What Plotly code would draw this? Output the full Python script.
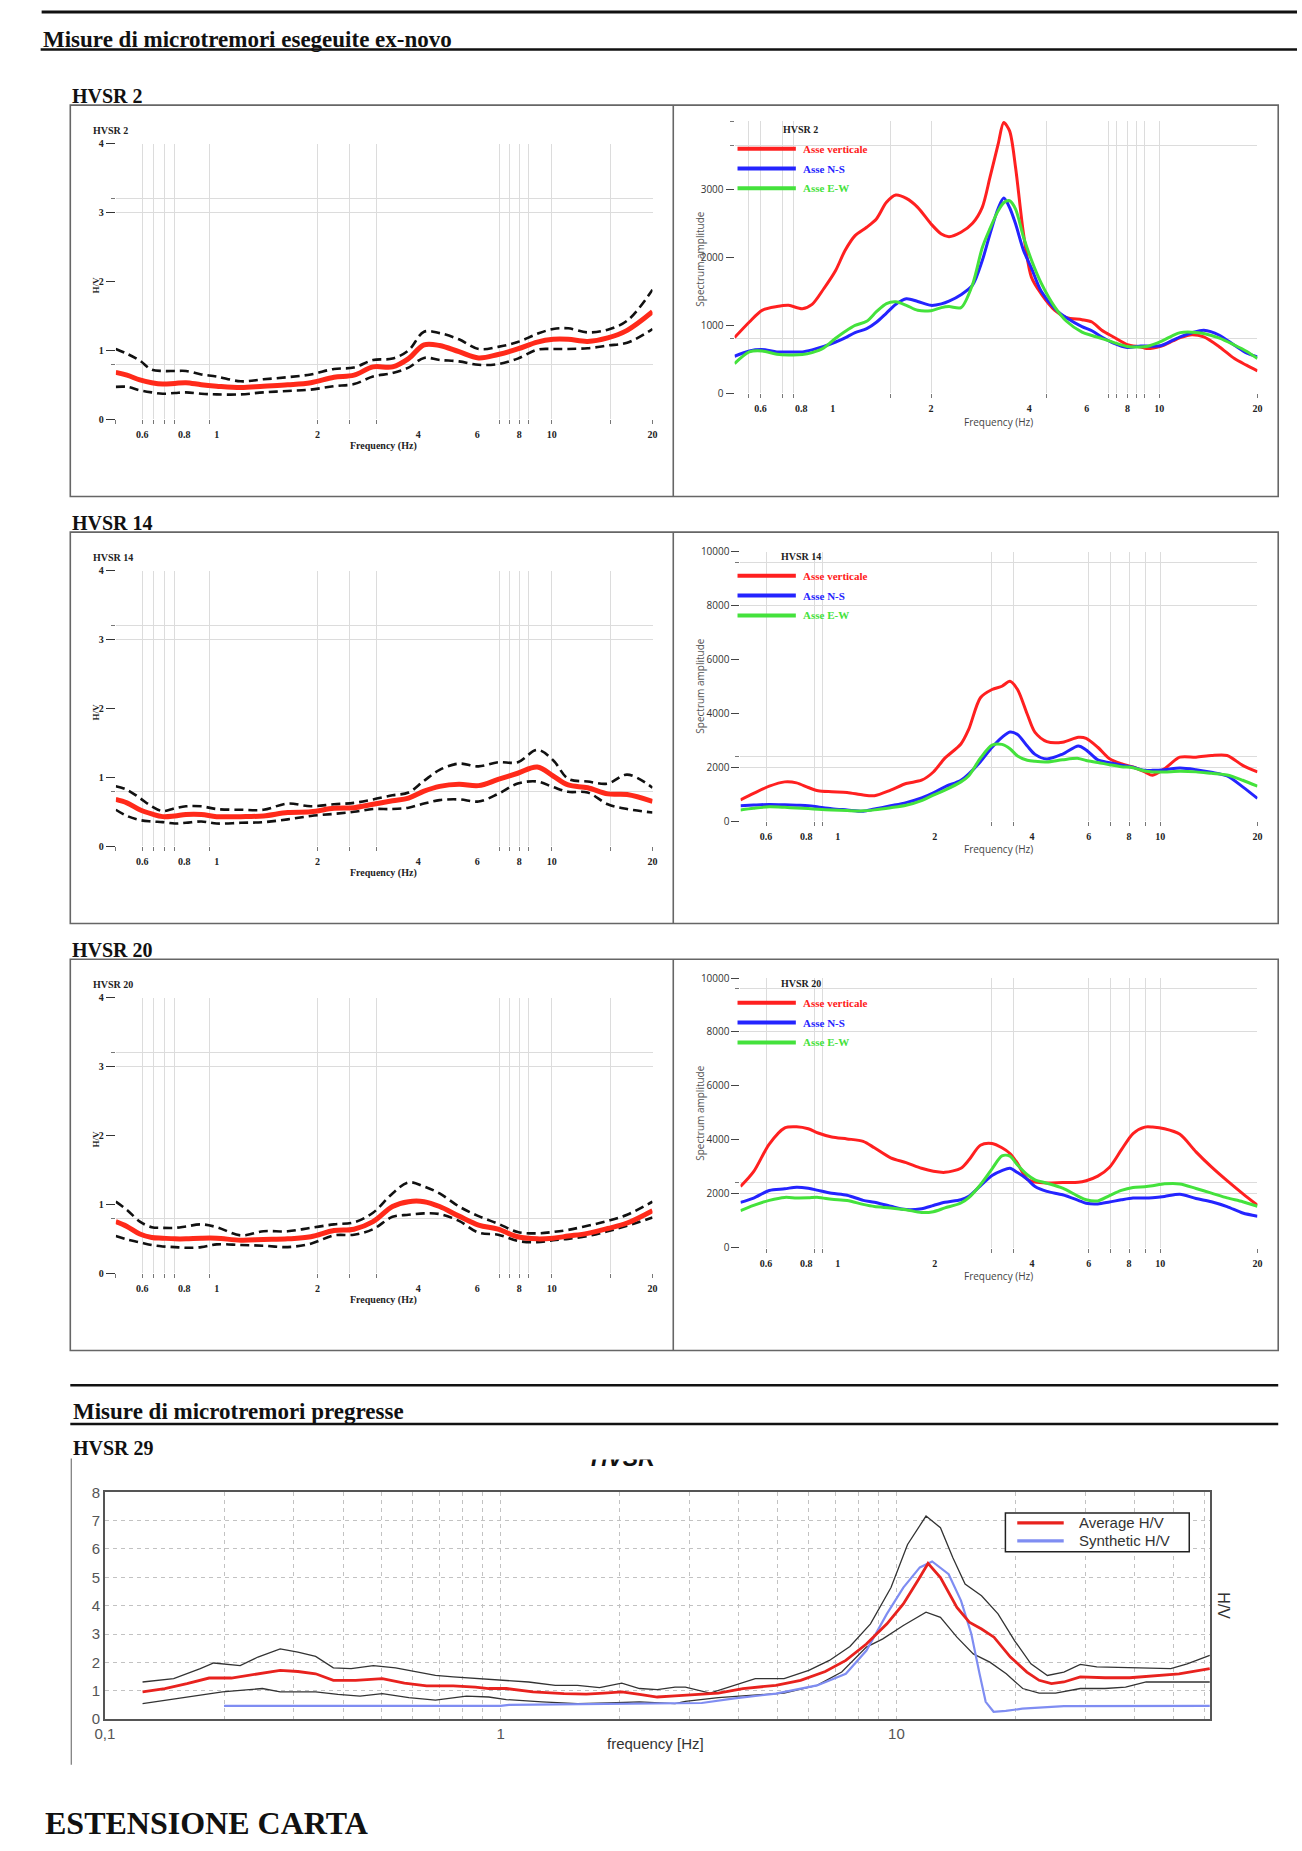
import numpy as np
import plotly.graph_objects as go

W, H = 1302, 1851

# ---------------- DATA ----------------
# H/V curves (left panels), frequency in Hz
hv_freq = [0.50, 0.54, 0.59, 0.64, 0.69, 0.75, 0.81, 0.90, 1.00, 1.18, 1.38, 1.63, 1.91, 2.24, 2.57, 2.93,
           3.35, 3.74, 4.16, 4.63, 5.29, 6.05, 6.92, 7.92, 9.06, 10.1, 11.2, 12.8, 14.7, 16.8, 20.0]
hv2_mean = [0.68, 0.64, 0.57, 0.53, 0.51, 0.52, 0.53, 0.50, 0.48, 0.46, 0.48, 0.50, 0.53, 0.61, 0.64, 0.76,
            0.76, 0.88, 1.08, 1.07, 0.98, 0.89, 0.94, 1.02, 1.12, 1.16, 1.16, 1.13, 1.18, 1.29, 1.56]
hv2_upper = [1.02, 0.95, 0.85, 0.72, 0.70, 0.70, 0.70, 0.65, 0.62, 0.55, 0.58, 0.61, 0.65, 0.73, 0.75, 0.86,
             0.88, 1.00, 1.27, 1.25, 1.16, 1.02, 1.05, 1.12, 1.24, 1.31, 1.32, 1.26, 1.30, 1.43, 1.88]
hv2_lower = [0.47, 0.47, 0.42, 0.39, 0.37, 0.38, 0.39, 0.37, 0.36, 0.36, 0.39, 0.41, 0.43, 0.48, 0.51, 0.62,
             0.67, 0.75, 0.89, 0.86, 0.84, 0.79, 0.80, 0.88, 1.01, 1.02, 1.02, 1.03, 1.07, 1.11, 1.31]
hv14_mean = [0.68, 0.63, 0.53, 0.47, 0.43, 0.44, 0.46, 0.46, 0.43, 0.43, 0.44, 0.49, 0.50, 0.55, 0.56, 0.61,
             0.66, 0.70, 0.80, 0.87, 0.90, 0.88, 0.97, 1.06, 1.15, 1.02, 0.89, 0.85, 0.76, 0.75, 0.65]
hv14_upper = [0.87, 0.82, 0.70, 0.58, 0.51, 0.55, 0.58, 0.58, 0.54, 0.53, 0.53, 0.62, 0.58, 0.61, 0.63, 0.68,
              0.74, 0.78, 0.95, 1.11, 1.20, 1.16, 1.22, 1.22, 1.40, 1.25, 0.98, 0.94, 0.91, 1.04, 0.85]
hv14_lower = [0.53, 0.44, 0.38, 0.36, 0.35, 0.33, 0.34, 0.36, 0.33, 0.34, 0.35, 0.39, 0.44, 0.47, 0.50, 0.54,
              0.54, 0.56, 0.62, 0.67, 0.68, 0.65, 0.76, 0.91, 0.94, 0.86, 0.79, 0.78, 0.61, 0.54, 0.49]
hv20_mean = [0.75, 0.68, 0.57, 0.52, 0.51, 0.50, 0.50, 0.51, 0.51, 0.48, 0.49, 0.50, 0.53, 0.62, 0.64, 0.75,
             0.97, 1.04, 1.04, 0.97, 0.83, 0.70, 0.64, 0.53, 0.50, 0.51, 0.54, 0.58, 0.65, 0.73, 0.91]
hv20_upper = [1.04, 0.92, 0.75, 0.67, 0.66, 0.66, 0.68, 0.71, 0.67, 0.55, 0.61, 0.61, 0.66, 0.71, 0.74, 0.88,
              1.16, 1.32, 1.26, 1.16, 0.97, 0.83, 0.72, 0.60, 0.58, 0.60, 0.63, 0.69, 0.76, 0.85, 1.04]
hv20_lower = [0.54, 0.49, 0.45, 0.41, 0.39, 0.38, 0.37, 0.38, 0.42, 0.41, 0.40, 0.38, 0.43, 0.55, 0.56, 0.64,
              0.82, 0.85, 0.87, 0.86, 0.76, 0.59, 0.56, 0.47, 0.45, 0.48, 0.50, 0.54, 0.61, 0.69, 0.81]

# Spectra (right panels)
spec2_freq = [0.50, 0.555, 0.607, 0.674, 0.732, 0.806, 0.864, 0.938, 1.02, 1.09, 1.17, 1.27, 1.36, 1.46, 1.56,
              1.68, 1.82, 2.0, 2.15, 2.27, 2.47, 2.68, 2.87, 3.03, 3.21, 3.34, 3.48, 3.63, 3.84, 4.06, 4.35,
              4.79, 5.2, 5.8, 6.22, 6.67, 7.24, 7.98, 8.78, 9.15, 10.1, 11.0, 11.6, 12.6, 13.7, 15.3, 17.0,
              18.5, 20.0]
spec2_vert = [820, 1049, 1220, 1275, 1293, 1244, 1307, 1537, 1805, 2098, 2317, 2439, 2561, 2805, 2912, 2863,
              2732, 2488, 2341, 2302, 2366, 2498, 2732, 3171, 3659, 3976, 3854, 3317, 2341, 1707, 1463, 1220,
              1112, 1083, 1049, 927, 829, 717, 683, 659, 693, 770, 820, 863, 829, 683, 512, 415, 332]
spec2_ns = [546, 624, 644, 610, 610, 610, 640, 690, 755, 815, 893, 951, 1045, 1180, 1310, 1390, 1350, 1293,
            1315, 1355, 1450, 1590, 1950, 2340, 2715, 2868, 2730, 2490, 2100, 1840, 1500, 1244, 1110, 980,
            920, 829, 740, 675, 698, 695, 700, 780, 830, 890, 927, 854, 707, 595, 537]
spec2_ew = [439, 610, 624, 576, 565, 570, 600, 668, 810, 910, 1000, 1059, 1200, 1320, 1345, 1293, 1220, 1215,
            1260, 1275, 1259, 1600, 2140, 2420, 2680, 2800, 2829, 2707, 2293, 1960, 1620, 1268, 1060, 900,
            850, 805, 750, 690, 683, 690, 760, 850, 893, 900, 880, 812, 710, 620, 512]

spec_freq = [0.50, 0.549, 0.614, 0.686, 0.746, 0.811, 0.87, 0.959, 1.07, 1.2, 1.3, 1.46, 1.63, 1.82, 1.98,
             2.15, 2.41, 2.55, 2.77, 3.01, 3.23, 3.42, 3.61, 3.87, 4.09, 4.45, 4.98, 5.57, 5.89, 6.4, 6.96,
             7.57, 8.23, 8.95, 9.46, 10.3, 11.5, 12.9, 14.4, 16.1, 18.0, 20.0]
spec14_vert = [796, 1040, 1310, 1469, 1432, 1261, 1138, 1102, 1077, 979, 955, 1163, 1408, 1530, 1836, 2350,
               2876, 3427, 4590, 4896, 5018, 5202, 4896, 3978, 3305, 2962, 2938, 3121, 3084, 2754, 2326, 2142,
               2020, 1836, 1714, 1958, 2387, 2387, 2448, 2448, 2081, 1836]
spec14_ns = [588, 610, 632, 620, 605, 588, 540, 475, 428, 380, 460, 580, 698, 870, 1060, 1285, 1530, 1770,
             2220, 2750, 3120, 3320, 3230, 2800, 2490, 2320, 2500, 2800, 2656, 2289, 2180, 2090, 2010, 1897,
             1897, 1920, 1980, 1922, 1825, 1690, 1285, 857]
spec14_ew = [428, 490, 545, 525, 500, 477, 450, 423, 404, 394, 430, 510, 600, 775, 980, 1163, 1469, 1700,
             2350, 2830, 2860, 2700, 2430, 2270, 2230, 2210, 2290, 2340, 2264, 2190, 2105, 2030, 1995, 1870,
             1836, 1836, 1860, 1840, 1785, 1725, 1530, 1310]
spec20_vert = [2264, 2815, 3840, 4440, 4480, 4406, 4250, 4100, 4030, 3940, 3700, 3330, 3150, 2940, 2830, 2790,
               2940, 3244, 3794, 3856, 3700, 3490, 3121, 2534, 2430, 2395, 2411, 2420, 2480, 2650, 2980, 3620,
               4230, 4468, 4468, 4406, 4200, 3550, 2990, 2480, 2000, 1567]
spec20_ns = [1677, 1836, 2118, 2179, 2240, 2200, 2120, 2015, 1940, 1750, 1677, 1530, 1408, 1440, 1560, 1677,
             1775, 1900, 2290, 2670, 2850, 2938, 2780, 2530, 2264, 2081, 1958, 1750, 1640, 1615, 1690, 1770,
             1836, 1836, 1850, 1897, 1980, 1820, 1700, 1520, 1280, 1163]
spec20_ew = [1371, 1567, 1750, 1860, 1840, 1845, 1860, 1790, 1745, 1600, 1520, 1469, 1400, 1300, 1330, 1469,
             1652, 1850, 2330, 2920, 3400, 3390, 3060, 2700, 2509, 2387, 2203, 1897, 1770, 1730, 1930, 2120,
             2228, 2255, 2290, 2362, 2360, 2190, 2020, 1840, 1700, 1530]

# HVSR 29 (bottom panel)
hv29_avg_freq = [0.1245, 0.1417, 0.1612, 0.1834, 0.2087, 0.2436, 0.2773, 0.3074, 0.3408, 0.3778, 0.4299,
                 0.5022, 0.5713, 0.6502, 0.7586, 0.8632, 0.9327, 1.034, 1.207, 1.446, 1.646, 1.825, 2.023,
                 2.243, 2.487, 2.758, 2.929, 3.548, 4.094, 4.959, 5.727, 6.61, 7.45, 8.397, 9.464, 10.41,
                 11.32, 12.02, 12.92, 14.22, 15.28, 16.41, 17.64, 19.41, 21.36, 22.94, 24.65, 26.49, 29.15,
                 33.65, 38.85, 44.86, 51.77, 61.9]
hv29_avg = [0.96, 1.08, 1.25, 1.45, 1.45, 1.60, 1.72, 1.68, 1.60, 1.37, 1.37, 1.43, 1.27, 1.17, 1.17, 1.13,
            1.08, 1.08, 0.96, 0.90, 0.88, 0.92, 0.96, 0.87, 0.78, 0.82, 0.84, 0.92, 1.08, 1.19, 1.37, 1.68,
            2.07, 2.65, 3.36, 4.06, 4.88, 5.49, 4.99, 3.94, 3.42, 3.18, 2.89, 2.19, 1.66, 1.37, 1.25, 1.31,
            1.49, 1.46, 1.46, 1.54, 1.60, 1.78]
hv29_max_freq = [0.1245, 0.1492, 0.1742, 0.1883, 0.2197, 0.2436, 0.2773, 0.3074, 0.3408, 0.3778, 0.419,
                 0.4768, 0.5425, 0.6173, 0.6842, 0.7586, 0.8856, 1.008, 1.1765, 1.374, 1.563, 1.778, 2.023,
                 2.243, 2.487, 2.758, 2.929, 3.381, 3.903, 4.4, 5.202, 6.006, 6.77, 7.63, 8.6, 9.69, 10.67,
                 11.88, 12.92, 13.88, 14.91, 16.41, 18.06, 19.88, 21.87, 24.07, 26.49, 29.15, 32.08, 38.85,
                 44.86, 49.35, 54.3, 61.9]
hv29_max = [1.31, 1.43, 1.78, 1.98, 1.89, 2.19, 2.48, 2.36, 2.21, 1.81, 1.78, 1.89, 1.81, 1.66, 1.54, 1.49,
            1.43, 1.39, 1.31, 1.19, 1.19, 1.11, 1.27, 1.08, 1.04, 1.13, 1.13, 0.92, 1.19, 1.43, 1.43, 1.72,
            2.07, 2.56, 3.36, 4.64, 6.16, 7.16, 6.75, 5.70, 4.76, 4.35, 3.71, 2.77, 1.95, 1.54, 1.66, 1.93,
            1.84, 1.81, 1.80, 1.78, 1.95, 2.25]
hv29_min_freq = [0.1245, 0.1454, 0.1697, 0.1982, 0.2314, 0.25, 0.2773, 0.3408, 0.3878, 0.4412, 0.5022,
                 0.5861, 0.6842, 0.8196, 0.9327, 1.034, 1.271, 1.563, 1.873, 2.243, 2.758, 2.929, 3.548,
                 4.297, 5.202, 6.3, 7.274, 8.397, 9.24, 10.41, 11.88, 12.92, 14.22, 15.64, 17.22, 18.95,
                 20.85, 22.94, 25.25, 29.15, 33.65, 37.93, 42.76, 61.9]
hv29_min = [0.55, 0.69, 0.84, 0.96, 1.04, 1.08, 0.96, 0.96, 0.87, 0.81, 0.90, 0.76, 0.67, 0.81, 0.78, 0.69,
            0.61, 0.55, 0.57, 0.61, 0.55, 0.63, 0.76, 0.84, 0.92, 1.19, 1.66, 2.54, 2.83, 3.30, 3.77, 3.59,
            2.89, 2.30, 2.01, 1.60, 1.08, 0.92, 0.92, 1.08, 1.08, 1.13, 1.31, 1.31]
hv29_syn_freq = [0.2, 1.0, 1.05, 2.0, 3.22, 3.9, 4.96, 6.3, 7.45, 8.4, 9.46, 10.41, 11.46, 12.31, 13.55,
                 14.56, 15.46, 16.22, 16.81, 17.6, 18.9, 20.8, 26.5, 61.9]
hv29_syn = [0.47, 0.47, 0.50, 0.55, 0.57, 0.73, 0.90, 1.19, 1.60, 2.42, 3.71, 4.64, 5.35, 5.56, 5.11, 4.18,
            3.01, 1.60, 0.61, 0.26, 0.29, 0.37, 0.46, 0.47]

# tick labels / grids
freq_tick_vals = [0.6, 0.8, 1, 2, 4, 6, 8, 10, 20]
freq_tick_text = ["0.6", "0.8", "1", "2", "4", "6", "8", "10", "20"]
hv_grid_freq = [0.5, 0.6, 0.65, 0.7, 0.75, 0.95, 2, 2.5, 3, 7, 7.5, 8, 8.5, 10, 15, 20]
spec2_grid_freq = [0.55, 0.6, 0.7, 0.757, 1.5, 2, 4.5, 7, 7.4, 8, 8.55, 9, 10, 20]
spec_grid_freq = [0.6, 0.85, 0.9, 3, 3.5, 6, 7, 8, 9, 10, 20]
spec2_amp_ticks = [0, 1000, 2000, 3000]
spec_amp_ticks = [0, 2000, 4000, 6000, 8000, 10000]
b_tick_vals = [0.1, 1, 10]
b_tick_text = ["0,1", "1", "10"]
b_minor_vals = [0.2, 0.3, 0.4, 0.5, 0.6, 0.7, 0.8, 0.9, 2, 3, 4, 5, 6, 7, 8, 9, 20, 30, 40, 50, 60]

# ---------------- FIGURE ----------------
SERIF = "Liberation Serif"
SANS = "Liberation Sans"
GRID = "#dcdcdc"
RED, BLUE, GREEN = "#ff2020", "#2424ff", "#44e23c"

fig = go.Figure()
axes = {}


def fx(p):
    return p / W


def fy(p):
    return 1 - p / H


def set_axes(n, x0, x1, ytop, ybot, xcfg, ycfg):
    sx = "" if n == 1 else str(n)
    xc = dict(xcfg)
    yc = dict(ycfg)
    xc.update(domain=[fx(x0), fx(x1)], anchor="y" + sx)
    yc.update(domain=[fy(ybot), fy(ytop)], anchor="x" + sx)
    axes["xaxis" + sx] = xc
    axes["yaxis" + sx] = yc
    return "x" + sx, "y" + sx


def ann(text, x, y, size, family, color="#111", bold=False, italic=False,
        xanchor="center", yanchor="middle", angle=0):
    fig.add_annotation(text=text, x=fx(x), y=fy(y), xref="paper", yref="paper",
                       showarrow=False, xanchor=xanchor, yanchor=yanchor, textangle=angle,
                       font=dict(family=family, size=size, color=color,
                                 weight=700 if bold else 400,
                                 style="italic" if italic else "normal"))


def hline(x0, x1, y, width, color="#111"):
    fig.add_shape(type="line", xref="paper", yref="paper", x0=fx(x0), x1=fx(x1), y0=fy(y), y1=fy(y),
                  line=dict(color=color, width=width))


def vline(x, y0, y1, width, color="#111"):
    fig.add_shape(type="line", xref="paper", yref="paper", x0=fx(x), x1=fx(x), y0=fy(y0), y1=fy(y1),
                  line=dict(color=color, width=width))


serif_tick = dict(family=SERIF, size=10, color="#222", weight=700)
logrange = [np.log10(0.5), np.log10(20)]


def freq_axis(grid):
    return dict(type="log", range=logrange, tickmode="array", tickvals=freq_tick_vals,
                ticktext=freq_tick_text, ticks="outside", ticklen=6, tickcolor="rgba(0,0,0,0)",
                showgrid=False, zeroline=False, showline=False, tickfont=serif_tick,
                minor=dict(tickmode="array", tickvals=grid, showgrid=True, gridcolor=GRID,
                           gridwidth=1, ticks="outside", ticklen=4, tickcolor="#777"))


hv_y = dict(range=[0, 4], tickmode="array", tickvals=[0, 1, 2, 3, 4], ticks="outside", ticklen=9,
            tickcolor="#333", showgrid=False, zeroline=False, showline=False, tickfont=serif_tick,
            minor=dict(tickmode="array", tickvals=[0.8, 3.0, 3.2, 4.0], showgrid=True, gridcolor=GRID,
                       ticks="outside", ticklen=4, tickcolor="#777"))


def spec_y(top, vals, grid):
    return dict(range=[0, top], tickmode="array", tickvals=vals, ticktext=[str(v) for v in vals],
                ticks="outside", ticklen=8,
                tickcolor="#444", showgrid=False, zeroline=False, showline=False,
                tickfont=dict(family="Open Sans", size=10, color="#333"),
                minor=dict(tickmode="array", tickvals=grid, showgrid=True, gridcolor=GRID,
                           ticks="outside", ticklen=4, tickcolor="#777"))


box_tops = [97, 528, 959]
box_h = 395
names = ["HVSR 2", "HVSR 14", "HVSR 20"]
hv_sets = [(hv2_mean, hv2_upper, hv2_lower), (hv14_mean, hv14_upper, hv14_lower),
           (hv20_mean, hv20_upper, hv20_lower)]
spec_sets = [(spec2_freq, spec2_vert, spec2_ns, spec2_ew),
             (spec_freq, spec14_vert, spec14_ns, spec14_ew),
             (spec_freq, spec20_vert, spec20_ns, spec20_ew)]
spec_cfg = [(4000, spec2_amp_ticks, [800, 3640, 3990], 733, 16, 291, spec2_grid_freq),
            (10000, spec_amp_ticks, [2000, 2400, 8000, 9600, 10000], 739, 20, 292, spec_grid_freq),
            (10000, spec_amp_ticks, [2000, 2400, 8000, 9600, 10000], 739, 19, 291, spec_grid_freq)]

for i in range(3):
    top = box_tops[i]
    # ---- left H/V panel
    xa, ya = set_axes(2 * i + 1, 107, 650, top + 39, top + 317, freq_axis(hv_grid_freq), hv_y)
    mean, up, lo = hv_sets[i]
    for series in (up, lo):
        fig.add_trace(go.Scatter(x=hv_freq, y=series, xaxis=xa, yaxis=ya, mode="lines",
                                 line=dict(color="#111", width=2.6, dash="9px,5px", shape="spline"),
                                 showlegend=False, hoverinfo="skip"))
    fig.add_trace(go.Scatter(x=hv_freq, y=mean, xaxis=xa, yaxis=ya, mode="lines",
                             line=dict(color="#ff2a1a", width=5, shape="spline"),
                             showlegend=False, hoverinfo="skip"))
    ann(names[i], 82, top + 26, 10, SERIF, "#222", bold=True, xanchor="left")
    ann("H/V", 87, top + 181, 9, SERIF, "#222", bold=True, angle=-90)
    ann("Frequency (Hz)", 378, top + 344, 10, SERIF, "#222", bold=True)

    # ---- right spectrum panel
    ytop_val, yvals, ygrid, xl, t_off, b_off, xgrid = spec_cfg[i]
    xa, ya = set_axes(2 * i + 2, xl, 1262, top + t_off, top + b_off, freq_axis(xgrid),
                      spec_y(ytop_val, yvals, ygrid))
    sf, sv, sn, se = spec_sets[i]
    for series, col in ((sv, RED), (sn, BLUE), (se, GREEN)):
        fig.add_trace(go.Scatter(x=sf, y=series, xaxis=xa, yaxis=ya, mode="lines",
                                 line=dict(color=col, width=3, shape="spline", smoothing=0.8),
                                 showlegend=False, hoverinfo="skip"))
    ann(names[i], 800, top + 25, 10, SERIF, "#222", bold=True)
    for k, (lab, col) in enumerate((("Asse verticale", RED), ("Asse N-S", BLUE), ("Asse E-W", GREEN))):
        yy = top + 44 + 20 * k
        hline(736, 795, yy, 4, col)
        ann(lab, 800, yy, 11, SERIF, col, bold=True, xanchor="left")
    ann("Spectrum amplitude", 698, top + 155, 10, "Open Sans", "#555", angle=-90)
    ann("Frequency (Hz)", 1000, top + 320, 10, "Open Sans", "#444")

    # box
    fig.add_shape(type="rect", xref="paper", yref="paper", x0=fx(61), x1=fx(1283), y0=fy(top + box_h),
                  y1=fy(top), line=dict(color="#666", width=1.6))
    vline(671, top, top + box_h, 1.6, "#666")

# ---- bottom HVSR 29 panel
bgrid = "#c2c2c2"
bx = dict(type="log", range=[-1, np.log10(62)], tickmode="array", tickvals=b_tick_vals, ticktext=b_tick_text,
          ticks="", showgrid=True, gridcolor=bgrid, griddash="4px,4px", gridwidth=1, zeroline=False,
          showline=True, mirror=True, linecolor="#555", linewidth=1.5,
          tickfont=dict(family=SANS, size=15, color="#555"),
          minor=dict(tickmode="array", tickvals=b_minor_vals, showgrid=True, gridcolor=bgrid,
                     griddash="4px,4px", ticks=""))
by = dict(range=[0, 8], tickmode="array", tickvals=list(range(9)), ticks="", showgrid=True, gridcolor=bgrid,
          griddash="4px,4px", zeroline=False, showline=True, mirror=True, linecolor="#555", linewidth=1.5,
          tickfont=dict(family=SANS, size=15, color="#555"))
xa, ya = set_axes(7, 96, 1214, 1497, 1726, bx, by)
for fq, series in ((hv29_max_freq, hv29_max), (hv29_min_freq, hv29_min)):
    fig.add_trace(go.Scatter(x=fq, y=series, xaxis=xa, yaxis=ya, mode="lines",
                             line=dict(color="#333", width=1.3), showlegend=False, hoverinfo="skip"))
fig.add_trace(go.Scatter(x=hv29_syn_freq, y=hv29_syn, xaxis=xa, yaxis=ya, mode="lines",
                         line=dict(color="#7f8df2", width=2.2), showlegend=False, hoverinfo="skip"))
fig.add_trace(go.Scatter(x=hv29_avg_freq, y=hv29_avg, xaxis=xa, yaxis=ya, mode="lines",
                         line=dict(color="#e8221e", width=2.8), showlegend=False, hoverinfo="skip"))

# clipped "HVSR" chart title (only its lower half is visible in the page)
xa8, ya8 = set_axes(8, 540, 700, 1464, 1492, dict(range=[0, 1], visible=False),
                    dict(range=[0, 1], visible=False))
fig.add_trace(go.Scatter(x=[0.5], y=[0.96], xaxis=xa8, yaxis=ya8, mode="text", text=["<b><i>HVSR</i></b>"],
                         textposition="middle center", cliponaxis=True,
                         textfont=dict(family=SANS, size=23, color="#111"), showlegend=False,
                         hoverinfo="skip"))

# legend of bottom panel
fig.add_shape(type="rect", xref="paper", yref="paper", x0=fx(1007), x1=fx(1193), y0=fy(1557), y1=fy(1518),
              line=dict(color="#222", width=1.5), fillcolor="white")
hline(1019, 1066, 1528, 3.2, "#e8221e")
hline(1019, 1066, 1546, 3.2, "#7f8df2")
ann("Average H/V", 1079, 1528, 15, SANS, "#333", xanchor="left")
ann("Synthetic H/V", 1079, 1546, 15, SANS, "#333", xanchor="left")
ann("frequency [Hz]", 653, 1751, 15, SANS, "#333")
ann("H/V", 1228, 1612, 16, SANS, "#333", angle=90)

# ---- page furniture
hline(32, 1302, 3, 3)
ann("Misure di microtremori esegeuite ex-novo", 31, 31, 23, SERIF, "#111", bold=True, xanchor="left")
hline(31, 1302, 41, 2.5)
for i, nm in enumerate(names):
    ann(nm, 61, box_tops[i] - 9, 20, SERIF, "#111", bold=True, xanchor="left")
hline(61, 1283, 1389, 2.5)
ann("Misure di microtremori pregresse", 62, 1415, 23, SERIF, "#111", bold=True, xanchor="left")
hline(61, 1283, 1428, 2.5)
ann("HVSR 29", 62, 1452, 20, SERIF, "#111", bold=True, xanchor="left")
vline(62, 1463, 1772, 1.2, "#777")
ann("ESTENSIONE CARTA", 33, 1831, 32, SERIF, "#111", bold=True, xanchor="left")

fig.update_layout(width=W, height=H, margin=dict(l=0, r=0, t=0, b=0), paper_bgcolor="white",
                  plot_bgcolor="rgba(0,0,0,0)", showlegend=False, **axes)

fig.write_html("out.html", config={"displayModeBar": False},
               post_script="document.documentElement.style.margin='0';document.body.style.margin='0';")
